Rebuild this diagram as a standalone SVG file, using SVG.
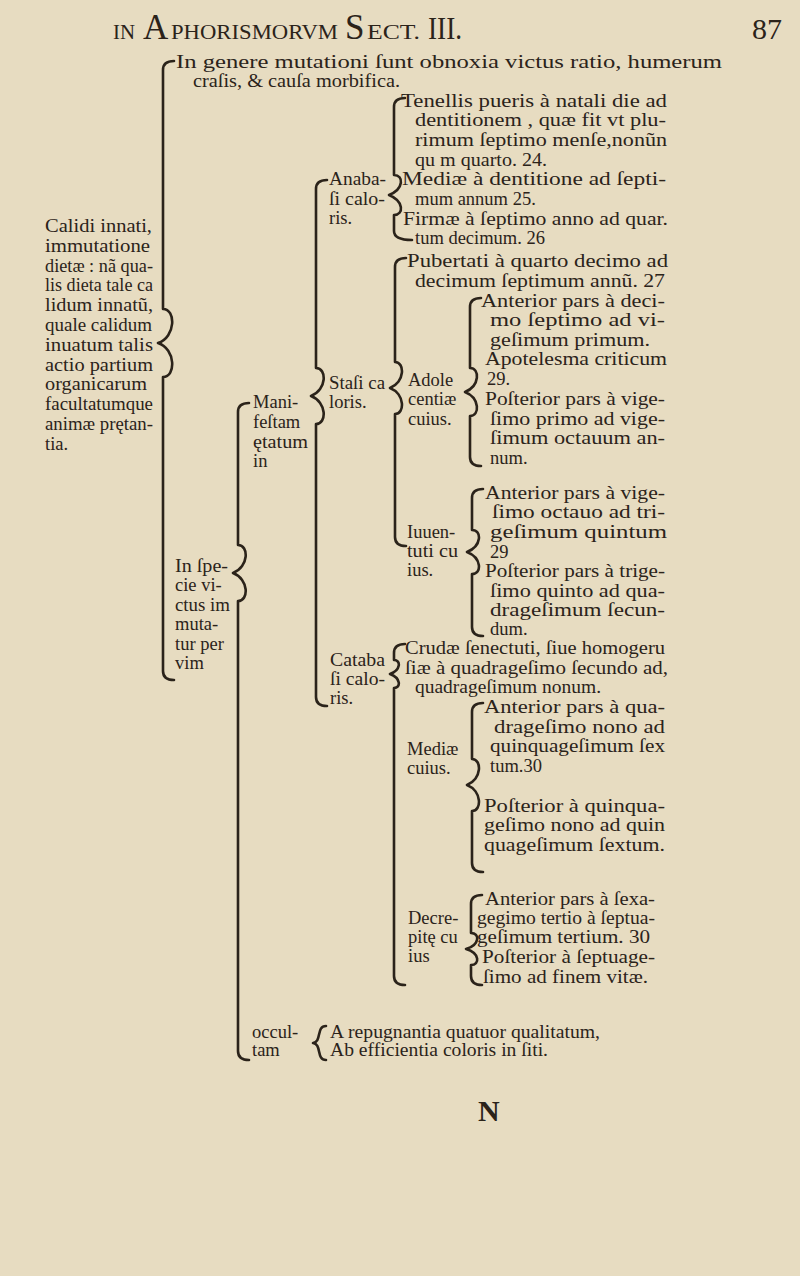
<svg xmlns="http://www.w3.org/2000/svg" width="800" height="1276" viewBox="0 0 800 1276">
<style>
.t{font-family:"Liberation Serif","DejaVu Serif",serif;font-size:18.5px;fill:#2b231a}
.hd{font-family:"Liberation Serif","DejaVu Serif",serif;fill:#2b231a}
.br{fill:none;stroke:#2b231a;stroke-width:2.6;stroke-linecap:round;stroke-linejoin:round}
</style>
<rect x="0" y="0" width="800" height="1276" fill="#e7dcc1"/>

<g id="header">
<text class="hd" x="113" y="39" font-size="22" textLength="22" lengthAdjust="spacingAndGlyphs">IN</text>
<text class="hd" x="143" y="39" font-size="35">A</text>
<text class="hd" x="171" y="39" font-size="22" textLength="167" lengthAdjust="spacingAndGlyphs">PHORISMORVM</text>
<text class="hd" x="345" y="39" font-size="35">S</text>
<text class="hd" x="367" y="39" font-size="22" textLength="53" lengthAdjust="spacingAndGlyphs">ECT.</text>
<text class="hd" x="428" y="39" font-size="32" textLength="34" lengthAdjust="spacingAndGlyphs">III.</text>
<text class="hd" x="752" y="39" font-size="30">87</text>
</g>

<g id="connectors">
<path class="br" d="M174,61 Q163,61 163,70 L163,309 C176,309 176,337 158,343 C176,349 176,377 163,377 L163,671 Q163,680 174,680"/>
<path class="br" d="M249,403 Q238,403 238,412 L238,545 C249,545 249,567 233,573 C249,579 249,601 238,601 L238,1051 Q238,1060 249,1060"/>
<path class="br" d="M327,180 Q316,180 316,189 L316,368 C327,368 327,390 311,396 C327,402 327,424 316,424 L316,697 Q316,706 327,706"/>
<path class="br" d="M405,98 Q394,98 394,107 L394,175 C404,175 404,189 389,195 C404,201 404,215 394,215 L394,231 Q394,240 412,240"/>
<path class="br" d="M406,258 Q395,258 395,267 L395,362 C405,362 405,382 390,388 C405,394 405,414 395,414 L395,537 Q395,546 406,546"/>
<path class="br" d="M481,298 Q470,298 470,307 L470,368 C480,368 480,386 465,392 C480,398 480,416 470,416 L470,457 Q470,466 481,466"/>
<path class="br" d="M483,489 Q472,489 472,498 L472,530 C482,530 482,546 467,552 C482,558 482,574 472,574 L472,627 Q472,636 483,636"/>
<path class="br" d="M405,644 Q394,644 394,653 L394,660 C401,660 401,670 390,674 C401,678 401,688 394,688 L394,976 Q394,985 405,985"/>
<path class="br" d="M483,703 Q472,703 472,712 L472,759 C482,759 482,779 467,785 C482,791 482,811 472,811 L472,863 Q472,872 483,872"/>
<path class="br" d="M482,895 Q471,895 471,904 L471,933 C480,933 480,945 466,949 C480,953 480,965 471,965 L471,976 Q471,985 482,985"/>
<path class="br" d="M326,1026 C316,1026 322,1042 313,1043 C322,1044 316,1060 326,1060"/>
</g>

<g id="n-calidi">
<text class="t" x="45" y="232" textLength="107" lengthAdjust="spacingAndGlyphs">Calidi innati,</text>
<text class="t" x="45" y="252" textLength="105" lengthAdjust="spacingAndGlyphs">immutatione</text>
<text class="t" x="45" y="272" textLength="108" lengthAdjust="spacingAndGlyphs">dietæ : nã qua-</text>
<text class="t" x="45" y="291" textLength="108" lengthAdjust="spacingAndGlyphs">lis dieta tale ca</text>
<text class="t" x="45" y="311" textLength="108" lengthAdjust="spacingAndGlyphs">lidum innatũ,</text>
<text class="t" x="45" y="331" textLength="107" lengthAdjust="spacingAndGlyphs">quale calidum</text>
<text class="t" x="45" y="351" textLength="108" lengthAdjust="spacingAndGlyphs">inuatum talis</text>
<text class="t" x="45" y="371" textLength="108" lengthAdjust="spacingAndGlyphs">actio partium</text>
<text class="t" x="45" y="390" textLength="102" lengthAdjust="spacingAndGlyphs">organicarum</text>
<text class="t" x="45" y="410" textLength="108" lengthAdjust="spacingAndGlyphs">facultatumque</text>
<text class="t" x="45" y="430" textLength="108" lengthAdjust="spacingAndGlyphs">animæ prętan-</text>
<text class="t" x="45" y="450">tia.</text>
</g>

<g id="n-genere">
<text class="t" x="176" y="68" textLength="546" lengthAdjust="spacingAndGlyphs">In genere mutationi ſunt obnoxia victus ratio, humerum</text>
<text class="t" x="193" y="87" textLength="207" lengthAdjust="spacingAndGlyphs">craſis, &amp; cauſa morbifica.</text>
</g>

<g id="n-specie">
<text class="t" x="175" y="572" textLength="53" lengthAdjust="spacingAndGlyphs">In ſpe-</text>
<text class="t" x="175" y="591">cie vi-</text>
<text class="t" x="175" y="611" textLength="55" lengthAdjust="spacingAndGlyphs">ctus im</text>
<text class="t" x="175" y="630">muta-</text>
<text class="t" x="175" y="650">tur per</text>
<text class="t" x="175" y="669">vim</text>
</g>

<g id="n-manifestam">
<text class="t" x="253" y="408">Mani-</text>
<text class="t" x="253" y="428">feſtam</text>
<text class="t" x="253" y="448" textLength="55" lengthAdjust="spacingAndGlyphs">ętatum</text>
<text class="t" x="253" y="467">in</text>
</g>

<g id="n-occultam">
<text class="t" x="252" y="1038">occul-</text>
<text class="t" x="252" y="1056">tam</text>
</g>

<g id="n-anabasi">
<text class="t" x="329" y="185" textLength="57" lengthAdjust="spacingAndGlyphs">Anaba-</text>
<text class="t" x="329" y="205" textLength="56" lengthAdjust="spacingAndGlyphs">ſi calo-</text>
<text class="t" x="329" y="224">ris.</text>
</g>

<g id="n-stasi">
<text class="t" x="329" y="389" textLength="56" lengthAdjust="spacingAndGlyphs">Staſi ca</text>
<text class="t" x="329" y="408">loris.</text>
</g>

<g id="n-catabasi">
<text class="t" x="330" y="666" textLength="55" lengthAdjust="spacingAndGlyphs">Cataba</text>
<text class="t" x="330" y="685" textLength="55" lengthAdjust="spacingAndGlyphs">ſi calo-</text>
<text class="t" x="330" y="704">ris.</text>
</g>

<g id="n-tenellis">
<text class="t" x="401" y="107" textLength="266" lengthAdjust="spacingAndGlyphs">Tenellis pueris à natali die ad</text>
<text class="t" x="415" y="126" textLength="251" lengthAdjust="spacingAndGlyphs">dentitionem , quæ fit vt plu-</text>
<text class="t" x="415" y="146" textLength="252" lengthAdjust="spacingAndGlyphs">rimum ſeptimo menſe,nonũn</text>
<text class="t" x="415" y="166" textLength="132" lengthAdjust="spacingAndGlyphs">qu m quarto. 24.</text>
</g>

<g id="n-mediae-anabasi">
<text class="t" x="402" y="185" textLength="264" lengthAdjust="spacingAndGlyphs">Mediæ à dentitione ad ſepti-</text>
<text class="t" x="415" y="205">mum annum 25.</text>
</g>

<g id="n-firmae">
<text class="t" x="403" y="225" textLength="265" lengthAdjust="spacingAndGlyphs">Firmæ à ſeptimo anno ad quar.</text>
<text class="t" x="415" y="244">tum decimum. 26</text>
</g>

<g id="n-pubertati">
<text class="t" x="407" y="267" textLength="261" lengthAdjust="spacingAndGlyphs">Pubertati à quarto decimo ad</text>
<text class="t" x="415" y="287" textLength="250" lengthAdjust="spacingAndGlyphs">decimum ſeptimum annũ. 27</text>
</g>

<g id="n-adolescentiae">
<text class="t" x="408" y="386">Adole</text>
<text class="t" x="408" y="405">centiæ</text>
<text class="t" x="408" y="425">cuius.</text>
</g>

<g id="n-adol-anterior">
<text class="t" x="481" y="307" textLength="184" lengthAdjust="spacingAndGlyphs">Anterior pars à deci-</text>
<text class="t" x="490" y="326" textLength="175" lengthAdjust="spacingAndGlyphs">mo ſeptimo ad vi-</text>
<text class="t" x="490" y="346" textLength="160" lengthAdjust="spacingAndGlyphs">geſimum primum.</text>
</g>

<g id="n-apotelesma">
<text class="t" x="485" y="365" textLength="182" lengthAdjust="spacingAndGlyphs">Apotelesma criticum</text>
<text class="t" x="487" y="385">29.</text>
</g>

<g id="n-adol-posterior">
<text class="t" x="485" y="405" textLength="180" lengthAdjust="spacingAndGlyphs">Poſterior pars à vige-</text>
<text class="t" x="490" y="425" textLength="175" lengthAdjust="spacingAndGlyphs">ſimo primo ad vige-</text>
<text class="t" x="490" y="444" textLength="175" lengthAdjust="spacingAndGlyphs">ſimum octauum an-</text>
<text class="t" x="490" y="464">num.</text>
</g>

<g id="n-iuuentuti">
<text class="t" x="407" y="538">Iuuen-</text>
<text class="t" x="407" y="557" textLength="51" lengthAdjust="spacingAndGlyphs">tuti cu</text>
<text class="t" x="407" y="576">ius.</text>
</g>

<g id="n-iuu-anterior">
<text class="t" x="485" y="499" textLength="180" lengthAdjust="spacingAndGlyphs">Anterior pars à vige-</text>
<text class="t" x="492" y="518" textLength="173" lengthAdjust="spacingAndGlyphs">ſimo octauo ad tri-</text>
<text class="t" x="490" y="538" textLength="177" lengthAdjust="spacingAndGlyphs">geſimum quintum</text>
<text class="t" x="490" y="558">29</text>
</g>

<g id="n-iuu-posterior">
<text class="t" x="485" y="577" textLength="180" lengthAdjust="spacingAndGlyphs">Poſterior pars à trige-</text>
<text class="t" x="490" y="597" textLength="175" lengthAdjust="spacingAndGlyphs">ſimo quinto ad qua-</text>
<text class="t" x="490" y="616" textLength="175" lengthAdjust="spacingAndGlyphs">drageſimum ſecun-</text>
<text class="t" x="490" y="635">dum.</text>
</g>

<g id="n-crudae">
<text class="t" x="405" y="654" textLength="260" lengthAdjust="spacingAndGlyphs">Crudæ ſenectuti, ſiue homogeru</text>
<text class="t" x="405" y="674" textLength="263" lengthAdjust="spacingAndGlyphs">ſiæ à quadrageſimo ſecundo ad,</text>
<text class="t" x="415" y="693" textLength="186" lengthAdjust="spacingAndGlyphs">quadrageſimum nonum.</text>
</g>

<g id="n-mediae-catabasi">
<text class="t" x="407" y="755">Mediæ</text>
<text class="t" x="407" y="774">cuius.</text>
</g>

<g id="n-med-anterior">
<text class="t" x="484" y="713" textLength="181" lengthAdjust="spacingAndGlyphs">Anterior pars à qua-</text>
<text class="t" x="494" y="733" textLength="171" lengthAdjust="spacingAndGlyphs">drageſimo nono ad</text>
<text class="t" x="490" y="752" textLength="175" lengthAdjust="spacingAndGlyphs">quinquageſimum ſex</text>
<text class="t" x="490" y="772">tum.30</text>
</g>

<g id="n-med-posterior">
<text class="t" x="484" y="812" textLength="181" lengthAdjust="spacingAndGlyphs">Poſterior à quinqua-</text>
<text class="t" x="484" y="831" textLength="181" lengthAdjust="spacingAndGlyphs">geſimo nono ad quin</text>
<text class="t" x="484" y="851" textLength="181" lengthAdjust="spacingAndGlyphs">quageſimum ſextum.</text>
</g>

<g id="n-decrepite">
<text class="t" x="408" y="924">Decre-</text>
<text class="t" x="408" y="943">pitę cu</text>
<text class="t" x="408" y="962">ius</text>
</g>

<g id="n-dec-anterior">
<text class="t" x="485" y="905" textLength="170" lengthAdjust="spacingAndGlyphs">Anterior pars à ſexa-</text>
<text class="t" x="477" y="924" textLength="178" lengthAdjust="spacingAndGlyphs">gegimo tertio à ſeptua-</text>
<text class="t" x="477" y="943" textLength="173" lengthAdjust="spacingAndGlyphs">geſimum tertium. 30</text>
</g>

<g id="n-dec-posterior">
<text class="t" x="482" y="963" textLength="173" lengthAdjust="spacingAndGlyphs">Poſterior à ſeptuage-</text>
<text class="t" x="483" y="983" textLength="165" lengthAdjust="spacingAndGlyphs">ſimo ad finem vitæ.</text>
</g>

<g id="n-repugnantia">
<text class="t" x="330" y="1038" textLength="270" lengthAdjust="spacingAndGlyphs">A repugnantia quatuor qualitatum,</text>
</g>

<g id="n-efficientia">
<text class="t" x="330" y="1056" textLength="218" lengthAdjust="spacingAndGlyphs">Ab efficientia coloris in ſiti.</text>
</g>

<g id="signature">
<text class="hd" x="478" y="1121" font-size="30" font-weight="bold">N</text>
</g>
</svg>
